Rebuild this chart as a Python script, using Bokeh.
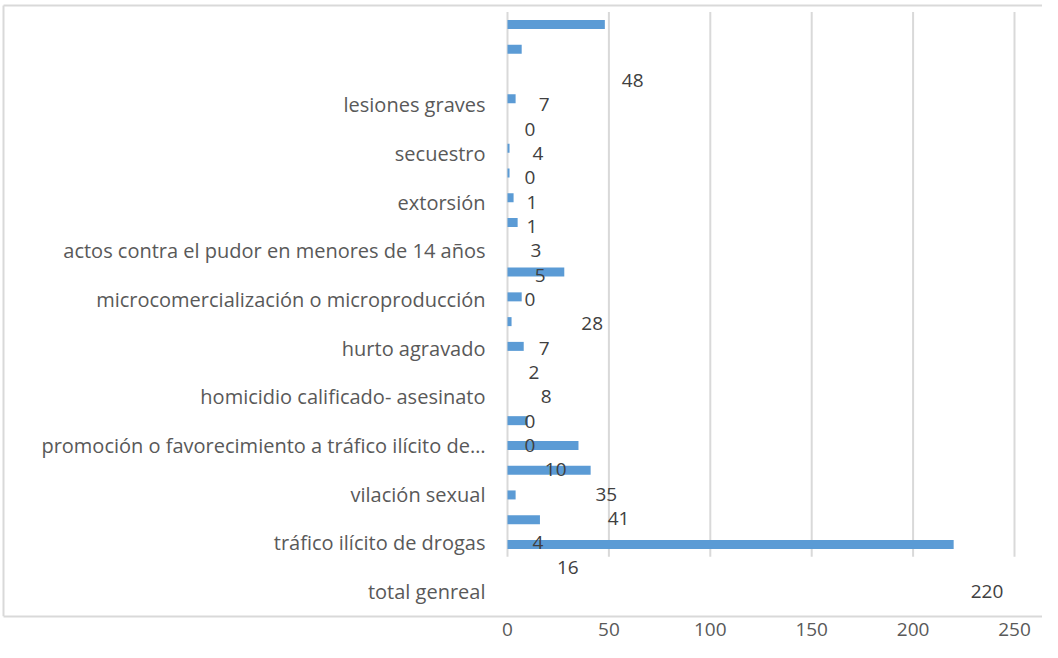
from bokeh.plotting import figure
from bokeh.models import Range1d, FixedTicker, ColumnDataSource
from bokeh.core.properties import value
from bokeh.embed import file_html
from bokeh.resources import INLINE

# ---------------- data ----------------
categories = [
    "lesiones graves",
    "secuestro",
    "extorsión",
    "actos contra el pudor en menores de 14 años",
    "microcomercialización o microproducción",
    "hurto agravado",
    "homicidio calificado- asesinato",
    "promoción o favorecimiento a tráfico ilícito de…",
    "vilación sexual",
    "tráfico ilícito de drogas",
    "total genreal",
]
bar_values = [48, 7, 0, 4, 0, 1, 1, 3, 5, 0, 28, 7, 2, 8, 0, 0, 10, 35, 41, 4, 16, 220]
label_values = [48, 7, 0, 4, 0, 1, 1, 3, 5, 0, 28, 7, 2, 8, 0, 0, 10, 35, 41, 4, 16, 220]
x_ticks = [0, 50, 100, 150, 200, 250]

# ---------------- layout (page pixels) ----------------
W, H = 1042, 642
M = 8
frame_left, frame_right, frame_top, frame_bottom = 9, 1050, 11, 624
box_left, box_top = 11, 13
x0_px, x250_px = 515, 1022
bar_y0, bar_pitch = 32, 24.76      # bar rows
lab_y0, lab_pitch = 88, 24.33      # data label / category rows (shifted in the original)

kx = (x250_px - x0_px) / 250.0
x_start = (frame_left - x0_px) / kx
x_end = (frame_right - x0_px) / kx

def bar_row(py):
    return (py - bar_y0) / bar_pitch

def lab_row(py):
    return (py - lab_y0) / lab_pitch

p = figure(
    width=W, height=H, output_backend="svg", toolbar_location=None,
    x_range=Range1d(x_start, x_end),
    y_range=Range1d(bar_row(frame_bottom), bar_row(frame_top)),
    y_axis_location=None,
    min_border_left=frame_left - M, min_border_right=W - (frame_right - M),
    min_border_top=frame_top - M, min_border_bottom=H - (frame_bottom - M),
)
p.extra_y_ranges = {"lab": Range1d(lab_row(frame_bottom), lab_row(frame_top))}
p.xgrid.visible = False
p.ygrid.visible = False
p.outline_line_color = None
p.background_fill_color = "white"
p.border_fill_color = "white"

GRID = "#D9D9D9"
n = len(bar_values)

# gridlines across the bar band
p.segment(x0=x_ticks, x1=x_ticks, y0=[-0.5] * len(x_ticks), y1=[n - 0.5] * len(x_ticks),
          line_color=GRID, line_width=2)

# chart border (top, left)
xb = (box_left - x0_px) / kx
yb = bar_row(box_top)
p.segment(x0=[xb, xb], x1=[x_end, xb], y0=[yb, yb], y1=[yb, bar_row(frame_bottom)],
          line_color=GRID, line_width=2)

# bars
bars = ColumnDataSource(dict(y=list(range(n)), v=bar_values))
p.hbar(y="y", left=0, right="v", height=9 / bar_pitch, source=bars,
       fill_color="#5B9BD5", line_color=None)

# data labels (displaced rows, as in the original)
labs = ColumnDataSource(dict(y=list(range(len(label_values))), v=label_values,
                             t=[str(v) for v in label_values]))
p.text(x="v", y="y", text="t", source=labs, y_range_name="lab",
       x_offset=17, text_align="left", text_baseline="middle",
       text_font=value("Open Sans"), text_font_size="19px", text_color="#404040")

# category labels
cats = ColumnDataSource(dict(y=[2 * i + 1 for i in range(len(categories))], t=categories,
                             x=[0] * len(categories)))
p.text(x="x", y="y", text="t", source=cats, y_range_name="lab",
       x_offset=-22, text_align="right", text_baseline="middle",
       text_font=value("Open Sans"), text_font_size="20px", text_color="#595959")

# x axis
ax = p.xaxis[0]
ax.ticker = FixedTicker(ticks=x_ticks)
ax.bounds = (xb, x_end)
ax.major_tick_line_color = None
ax.minor_tick_line_color = None
ax.axis_line_color = GRID
ax.axis_line_width = 2
ax.major_label_standoff = 0
ax.major_label_text_font = "Open Sans"
ax.major_label_text_font_size = "19px"
ax.major_label_text_color = "#595959"

open("out.html", "w").write(file_html(p, INLINE))
